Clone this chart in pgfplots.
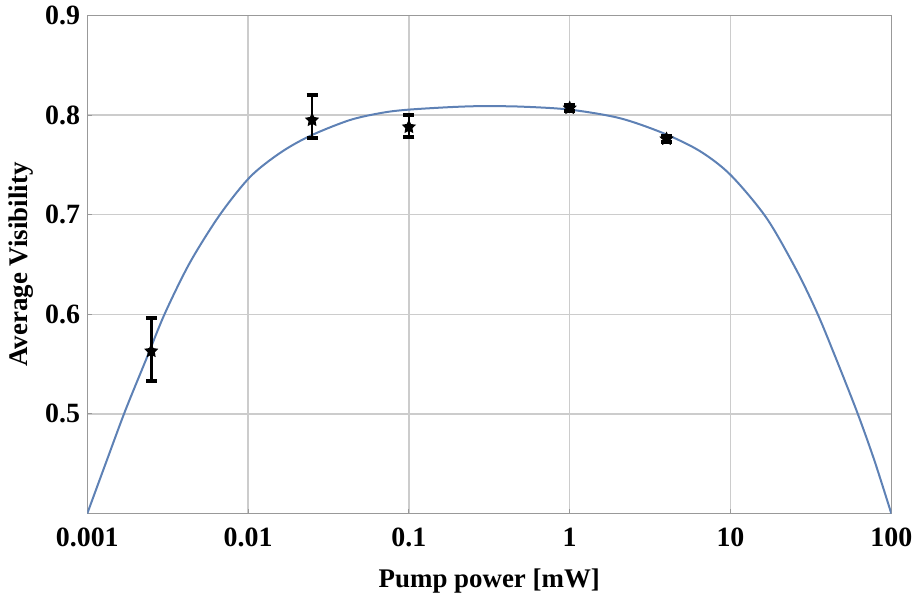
\documentclass[border=0pt]{standalone}
\usepackage{fontspec}
\setmainfont{Liberation Serif}
\usepackage{pgfplots}
\pgfplotsset{compat=1.18}

\definecolor{fitblue}{HTML}{5E81B5}
\definecolor{gridgray}{HTML}{CCCCCC}
\definecolor{framegray}{HTML}{999999}

% filled five-pointed star
\pgfdeclareplotmark{fstar}{%
  \pgfpathmoveto{\pgfpointpolar{90}{\pgfplotmarksize}}%
  \pgfpathlineto{\pgfpointpolar{126}{0.5\pgfplotmarksize}}%
  \pgfpathlineto{\pgfpointpolar{162}{\pgfplotmarksize}}%
  \pgfpathlineto{\pgfpointpolar{198}{0.5\pgfplotmarksize}}%
  \pgfpathlineto{\pgfpointpolar{234}{\pgfplotmarksize}}%
  \pgfpathlineto{\pgfpointpolar{270}{0.5\pgfplotmarksize}}%
  \pgfpathlineto{\pgfpointpolar{306}{\pgfplotmarksize}}%
  \pgfpathlineto{\pgfpointpolar{342}{0.5\pgfplotmarksize}}%
  \pgfpathlineto{\pgfpointpolar{18}{\pgfplotmarksize}}%
  \pgfpathlineto{\pgfpointpolar{54}{0.5\pgfplotmarksize}}%
  \pgfpathclose\pgfusepathqfill}

\begin{document}
\begin{tikzpicture}
\begin{axis}[
  at={(0,0)}, anchor=south west,
  scale only axis, width=804bp, height=498bp,
  xmode=log, xmin=0.001, xmax=100,
  ymin=0.4, ymax=0.9,
  xtick={0.001,0.01,0.1,1,10,100},
  xticklabels={0.001,0.01,0.1,1,10,100},
  ytick={0.5,0.6,0.7,0.8,0.9},
  xminorticks=false, yminorticks=false,
  /pgf/number format/assume math mode=true,
  yticklabel style={/pgf/number format/fixed, /pgf/number format/fixed zerofill,
    /pgf/number format/precision=1, inner sep=0pt, anchor=east, xshift=-7bp},
  xticklabel style={inner sep=0pt, anchor=north, yshift=-14bp},
  tick label style={font=\fontsize{28}{32}\selectfont\bfseries},
  label style={font=\fontsize{27}{32}\selectfont\bfseries},
  xlabel={Pump power [mW]},
  ylabel={Average Visibility},
  xlabel style={at={(axis description cs:0.5,-0.148)}, anchor=base},
  ylabel style={at={(axis description cs:-0.0745,0.5)}, anchor=base, rotate=0},
  grid=major,
  major grid style={gridgray, line width=1.3bp},
  axis line style={framegray, line width=1.2bp},
  tick align=inside, xtick pos=left, ytick pos=left,
  major tick length=5bp,
  tick style={framegray, line width=1bp},
]
\addplot[fitblue, line width=2bp, smooth] coordinates {
  (0.001,0.400) (0.00132,0.453) (0.00172,0.503) (0.00234,0.556)
  (0.00304,0.601) (0.00435,0.652) (0.00668,0.700) (0.0103,0.738)
  (0.0158,0.762) (0.0242,0.779) (0.0429,0.795) (0.0692,0.8025)
  (0.1,0.8055) (0.18,0.808) (0.28,0.809) (0.5,0.8085) (1,0.8055)
  (2.04,0.797) (3.8,0.782) (6.43,0.764) (10,0.740) (16.7,0.697)
  (25.6,0.645) (34.9,0.600) (46.5,0.551) (61.9,0.500) (78.6,0.453)
  (100,0.400)
};
\addplot[black, only marks, mark=fstar, mark size=7.5bp,
  error bars/.cd, y dir=both, y explicit,
  error bar style={line width=2.5bp, black},
  error mark options={rotate=90, mark size=5.5bp, line width=4bp, black}]
  coordinates {
  (0.0025,0.563) += (0,0.033) -= (0,0.030)
  (0.025,0.795) += (0,0.025) -= (0,0.018)
  (0.1,0.788) += (0,0.012) -= (0,0.010)
  (1,0.807) += (0,0.003) -= (0,0.003)
  (4,0.776) += (0,0.003) -= (0,0.003)
};
\end{axis}
\pgfresetboundingbox
\path (-87.3bp,-85.7bp) rectangle (829.7bp,513.5bp);
\end{tikzpicture}
\end{document}
